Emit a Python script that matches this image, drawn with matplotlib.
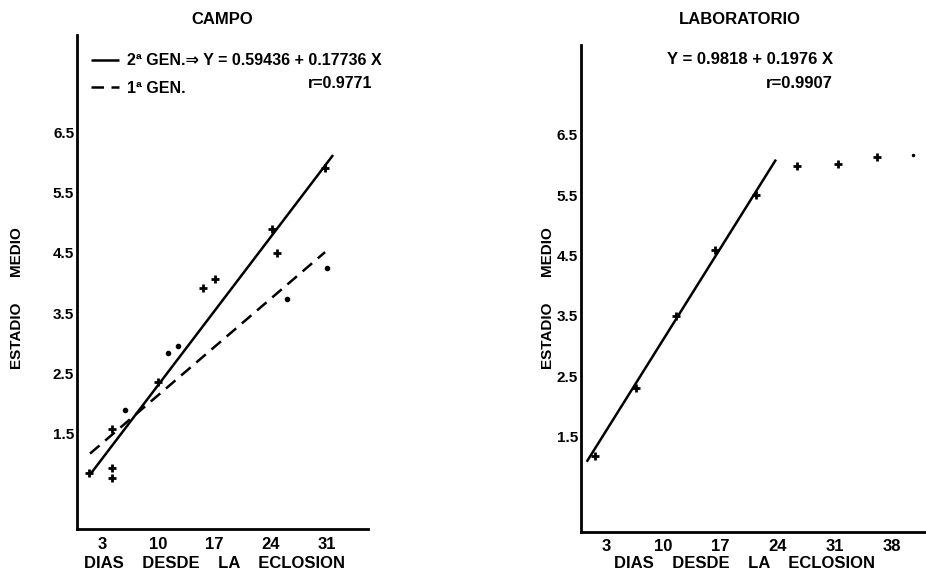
#!/usr/bin/env python3
# coding: utf-8

import matplotlib
matplotlib.use('Agg')
from matplotlib import pyplot as plt


FONT = ['Liberation Sans', 'DejaVu Sans']

DAY_TICKS_CAMPO = [3, 10, 17, 24, 31]
DAY_TICKS_LAB = [3, 10, 17, 24, 31, 38]
STAGE_TICKS = [1.5, 2.5, 3.5, 4.5, 5.5, 6.5]

# CAMPO: puntos marcados con cruz
campo_cruz_x = [1.4, 4.2, 4.2, 4.2, 9.9, 15.6, 17.1, 24.2, 24.8, 30.7]
campo_cruz_y = [0.85, 0.76, 0.93, 1.57, 2.36, 3.91, 4.07, 4.90, 4.49, 5.91]
# CAMPO: puntos marcados con punto
campo_punto_x = [5.8, 11.2, 12.5, 26.0, 31.0]
campo_punto_y = [1.89, 2.83, 2.95, 3.74, 4.25]
# rectas de ajuste (extremos)
gen2_x = [1.42, 31.75]
gen2_y = [0.81, 6.12]
gen1_x = [1.48, 30.75]
gen1_y = [1.17, 4.51]

# LABORATORIO
lab_x = [1.6, 6.6, 11.55, 16.3, 21.35, 26.35, 31.4, 36.2]
lab_y = [1.18, 2.30, 3.49, 4.59, 5.50, 5.99, 6.02, 6.13]
lab_speck_x = [40.6]
lab_speck_y = [6.17]
lab_fit_x = [0.6, 23.8]
lab_fit_y = [1.08, 6.09]

W, H = 926, 577


def fx(px):
    return px / W


def fy(py):
    return 1 - py / H


def style_axes(ax, xticks, xlim, ylim):
    ax.set_xlim(*xlim)
    ax.set_ylim(*ylim)
    for side in ('top', 'right'):
        ax.spines[side].set_visible(False)
    for side in ('left', 'bottom'):
        ax.spines[side].set_linewidth(2.0)
    ax.set_xticks(xticks)
    ax.set_xticklabels([str(t) for t in xticks], fontsize=12, fontweight='bold', family=FONT)
    ax.set_yticks(STAGE_TICKS)
    ax.set_yticklabels([str(t) for t in STAGE_TICKS], fontsize=11, fontweight='bold', family=FONT)
    ax.tick_params(axis='both', length=0)
    ax.tick_params(axis='x', pad=5.5)
    ax.tick_params(axis='y', pad=2)
    ax.patch.set_alpha(0)


def main():
    fig = plt.figure(figsize=(W / 100, H / 100), dpi=100)

    # ---- CAMPO
    ax1 = fig.add_axes([fx(77), fy(529), fx(368) - fx(77), fy(35) - fy(529)])
    style_axes(ax1, DAY_TICKS_CAMPO, (-0.14, 36.1), (-0.08, 8.11))
    l2, = ax1.plot(gen2_x, gen2_y, color='black', lw=1.8, solid_capstyle='butt')
    l1, = ax1.plot(gen1_x, gen1_y, color='black', lw=1.8, dashes=(5, 3))
    ax1.plot(campo_cruz_x, campo_cruz_y, ls='', marker='+', ms=6, mew=2, color='black')
    ax1.plot(campo_punto_x, campo_punto_y, ls='', marker='o', ms=3, color='black')
    ax1.legend([l2, l1], ['2ª GEN.⇒ Y = 0.59436 + 0.17736 X', '1ª GEN.'],
               loc='upper left', bbox_to_anchor=(0.025, 0.976), frameon=False,
               handlelength=1.8, handletextpad=0.45, labelspacing=0.8, borderaxespad=0,
               prop={'family': FONT, 'weight': 'bold', 'size': 11.5})
    fig.text(fx(372), fy(83), 'r=0.9771', ha='right', va='center',
             fontsize=11.5, fontweight='bold', family=FONT)

    fig.text(fx(222), fy(20), 'CAMPO', ha='center', va='center',
             fontsize=12, fontweight='bold', family=FONT)
    fig.text(fx(215), fy(563), 'DIAS    DESDE    LA    ECLOSION', ha='center', va='center',
             fontsize=12, fontweight='bold', family=FONT)
    fig.text(fx(17), fy(298), 'ESTADIO      MEDIO', ha='center', va='center', rotation=90,
             fontsize=11, fontweight='bold', family=FONT)

    # ---- LABORATORIO
    ax2 = fig.add_axes([fx(580.7), fy(531.7), 1 - fx(580.7), fy(45) - fy(531.7)])
    style_axes(ax2, DAY_TICKS_LAB, (-0.14, 42.2), (-0.08, 7.99))
    ax2.plot(lab_fit_x, lab_fit_y, color='black', lw=1.8, solid_capstyle='butt')
    ax2.plot(lab_x, lab_y, ls='', marker='+', ms=6, mew=2, color='black')
    ax2.plot(lab_speck_x, lab_speck_y, ls='', marker='o', ms=1.5, color='black')
    fig.text(fx(833), fy(60), 'Y = 0.9818 + 0.1976 X', ha='right', va='center',
             fontsize=12, fontweight='bold', family=FONT)
    fig.text(fx(833), fy(83), 'r=0.9907', ha='right', va='center',
             fontsize=12, fontweight='bold', family=FONT)

    fig.text(fx(740), fy(20), 'LABORATORIO', ha='center', va='center',
             fontsize=12, fontweight='bold', family=FONT)
    fig.text(fx(745), fy(563), 'DIAS    DESDE    LA    ECLOSION', ha='center', va='center',
             fontsize=12, fontweight='bold', family=FONT)
    fig.text(fx(548), fy(298), 'ESTADIO      MEDIO', ha='center', va='center', rotation=90,
             fontsize=11, fontweight='bold', family=FONT)

    fig.savefig('out.png', dpi=100)


if __name__ == "__main__":
    main()
